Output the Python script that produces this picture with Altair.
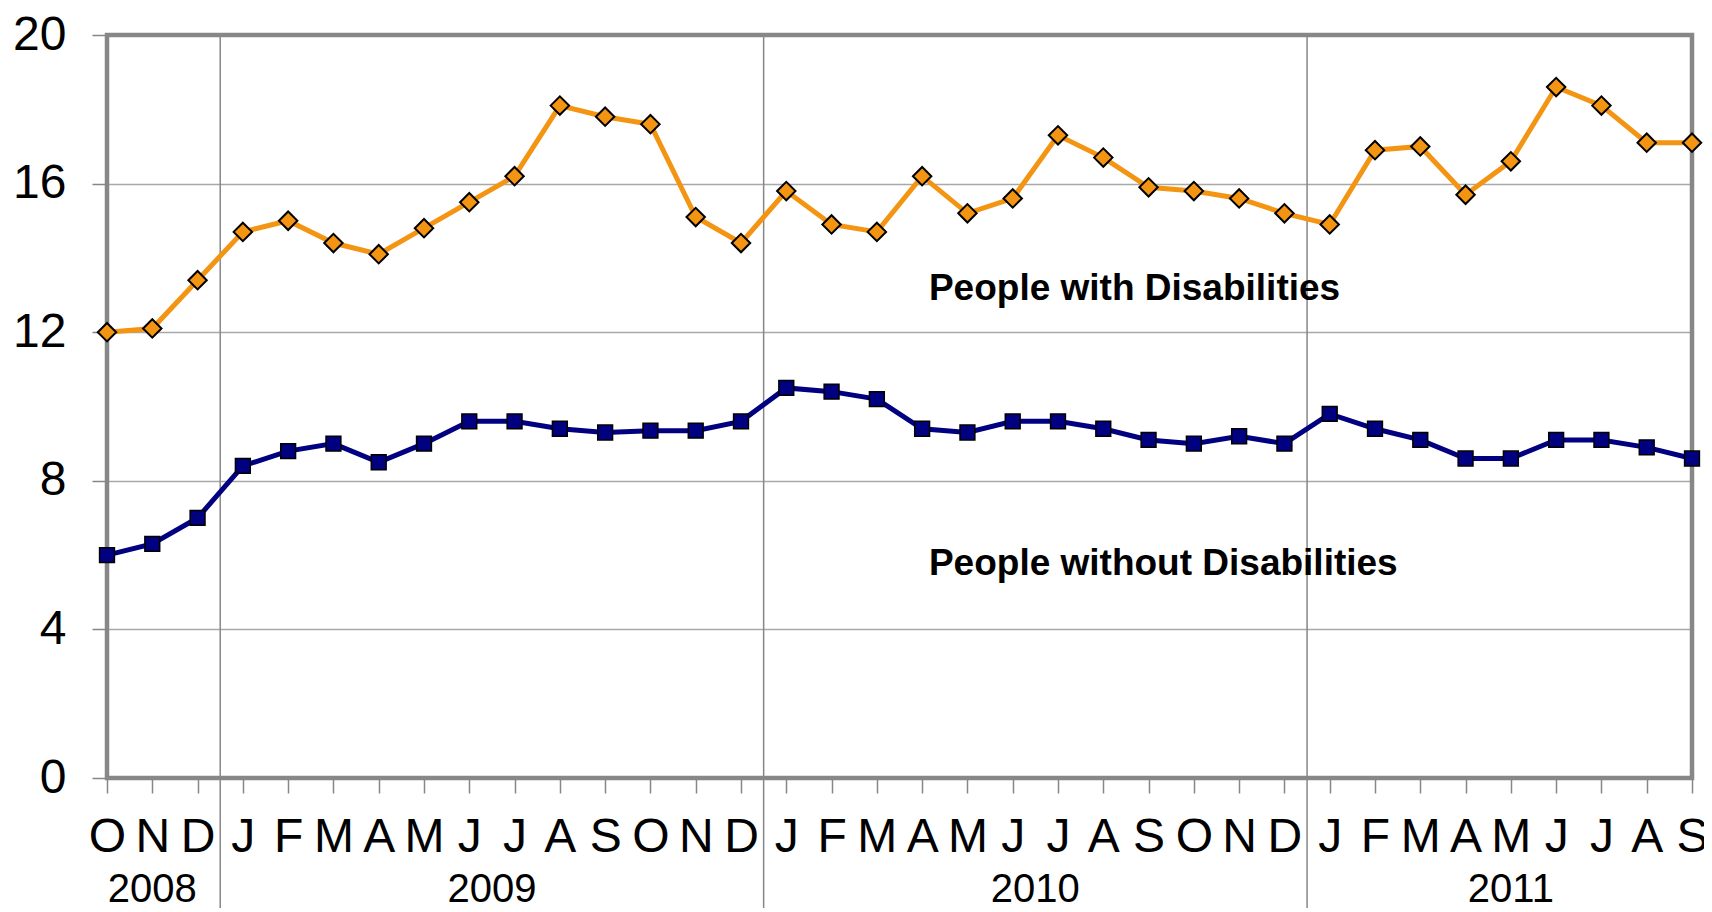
import altair as alt
import pandas as pd

months = ["O","N","D",
          "J","F","M","A","M","J","J","A","S","O","N","D",
          "J","F","M","A","M","J","J","A","S","O","N","D",
          "J","F","M","A","M","J","J","A","S"]
month_year = [2008]*3 + [2009]*12 + [2010]*12 + [2011]*9

with_dis = [12.0, 12.1, 13.4,
            14.7, 15.0, 14.4, 14.1, 14.8, 15.5, 16.2, 18.1, 17.8, 17.6, 15.1, 14.4,
            15.8, 14.9, 14.7, 16.2, 15.2, 15.6, 17.3, 16.7, 15.9, 15.8, 15.6, 15.2,
            14.9, 16.9, 17.0, 15.7, 16.6, 18.6, 18.1, 17.1, 17.1]
without_dis = [6.0, 6.3, 7.0,
               8.4, 8.8, 9.0, 8.5, 9.0, 9.6, 9.6, 9.4, 9.3, 9.35, 9.35, 9.6,
               10.5, 10.4, 10.2, 9.4, 9.3, 9.6, 9.6, 9.4, 9.1, 9.0, 9.2, 9.0,
               9.8, 9.4, 9.1, 8.6, 8.6, 9.1, 9.1, 8.9, 8.6]

years = [2008, 2009, 2010, 2011]
y_ticks = [0, 4, 8, 12, 16, 20]

series_labels = ["People with Disabilities", "People without Disabilities"]

FONT = "Liberation Sans"
ORANGE = "#F39512"
NAVY = "#000080"
GRAY = "#878787"

W, H = 1585, 743

n = len(months)
idx = list(range(n))
df = pd.DataFrame({"i": idx, "with": with_dis, "without": without_dis, "year": month_year})

# year separators between last month of a year and first of next
sep = [i - 0.5 for i in range(1, n) if month_year[i] != month_year[i - 1]]
sep_df = pd.DataFrame({"x": sep})

# year label centres (mean of month indices for each year)
year_df = pd.DataFrame({
    "year": [str(y) for y in years],
    "x": [sum(i for i in idx if month_year[i] == y) / month_year.count(y) for y in years],
})

ann_df = pd.DataFrame({"text": series_labels, "x": [18.15, 18.15], "y": [13.15, 5.75]})

label_expr = "[" + ",".join("'%s'" % m for m in months) + "][datum.value]"

xscale = alt.Scale(domain=[0, n - 1], nice=False, zero=False)
yscale = alt.Scale(domain=[0, 20], nice=False)

xaxis = alt.Axis(values=idx, labelExpr=label_expr, title=None, grid=False, domain=False,
                 tickSize=15, tickColor=GRAY, tickWidth=1.5, labelFontSize=48, labelFont=FONT,
                 labelColor="black", labelPadding=20, labelOverlap=False, labelFlush=False,
                 labelBound=False)
yaxis = alt.Axis(values=y_ticks, title=None, domain=False, grid=True, gridColor="#A8A8A8",
                 gridWidth=1.5, tickSize=15, tickColor=GRAY, tickWidth=1.5, labelFontSize=48,
                 labelFont=FONT, labelColor="black", labelPadding=26)

base = alt.Chart(df)

axes_layer = base.mark_point(opacity=0).encode(
    x=alt.X("i:Q", scale=xscale, axis=xaxis),
    y=alt.Y("with:Q", scale=yscale, axis=yaxis),
)

seps = alt.Chart(sep_df).mark_rule(color=GRAY, strokeWidth=1.5, clip=False).encode(
    x=alt.X("x:Q", scale=xscale), y=alt.value(0), y2=alt.value(880)
)

border = alt.Chart(pd.DataFrame({"k": [0]})).mark_rect(
    fillOpacity=0, stroke=GRAY, strokeWidth=4.5, clip=False).encode(
    x=alt.value(0), x2=alt.value(W), y=alt.value(0), y2=alt.value(H))

line_w = base.mark_line(color=ORANGE, strokeWidth=5).encode(
    x=alt.X("i:Q", scale=xscale), y=alt.Y("with:Q", scale=yscale))
pts_w = base.mark_point(shape="diamond", filled=True, fill=ORANGE,
                        stroke="black", strokeWidth=2, size=340, opacity=1).encode(
    x=alt.X("i:Q", scale=xscale), y=alt.Y("with:Q", scale=yscale))

line_wo = base.mark_line(color=NAVY, strokeWidth=5).encode(
    x=alt.X("i:Q", scale=xscale), y=alt.Y("without:Q", scale=yscale))
pts_wo = base.mark_point(shape="square", filled=True, fill=NAVY, stroke="black",
                         strokeWidth=1.5, size=220, opacity=1).encode(
    x=alt.X("i:Q", scale=xscale), y=alt.Y("without:Q", scale=yscale))

ann = alt.Chart(ann_df).mark_text(align="left", baseline="middle", font=FONT, fontSize=37,
                                  fontWeight="bold", color="black").encode(
    x=alt.X("x:Q", scale=xscale), y=alt.Y("y:Q", scale=yscale), text="text:N")

year_text = alt.Chart(year_df).mark_text(align="center", baseline="middle", font=FONT,
                                         fontSize=40, color="black", clip=False).encode(
    x=alt.X("x:Q", scale=xscale), y=alt.value(855), text="year:N")

chart = alt.layer(axes_layer, seps, border, line_w, line_wo, pts_w, pts_wo, ann, year_text).properties(
    width=W, height=H,
    padding={"left": 99, "top": 27, "right": 12, "bottom": 130},
    autosize=alt.AutoSizeParams(type="none"),
).configure_view(stroke=None).configure(background="white")

chart.save("out.html", embed_options={"renderer": "svg", "actions": False})
